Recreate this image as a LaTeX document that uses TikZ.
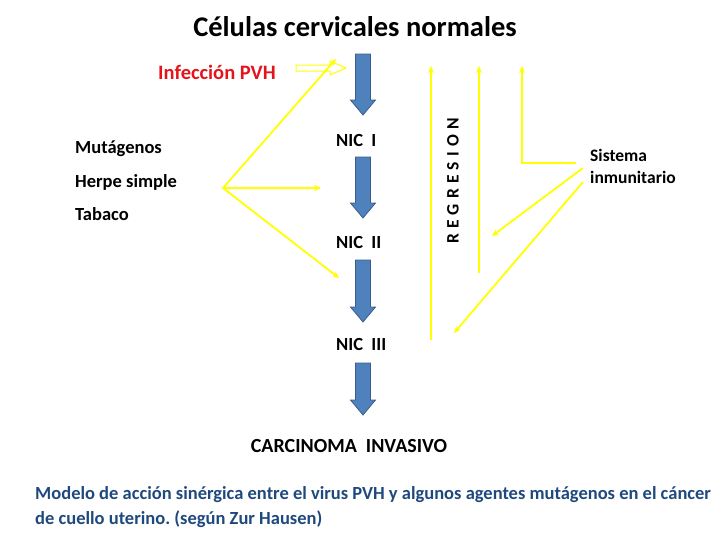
\documentclass[tikz,border=0pt]{standalone}
\usepackage{fontspec}
\setmainfont{Carlito}
\usetikzlibrary{arrows.meta}
\definecolor{blk}{HTML}{4F81BD}
\definecolor{blkline}{HTML}{385D8A}
\definecolor{yel}{HTML}{FFFF00}
\definecolor{redt}{HTML}{E3141C}
\definecolor{capt}{HTML}{1F497D}
\frenchspacing
\tikzset{
  lbl/.style={font=\bfseries\fontsize{18.5}{22}\selectfont, inner sep=0pt},
  yline/.style={draw=yel, line width=1.8pt, -{Stealth[length=7pt,width=6pt]}},
  blockarrow/.pic={
    \path[fill=blk, draw=blkline, line width=0.8pt]
      (-7.5,0) -- (7.5,0) -- (7.5,#1) -- (12.5,#1) -- (0,#1+15) -- (-12.5,#1) -- (-7.5,#1) -- cycle;
  }
}
\begin{document}
\begin{tikzpicture}[x=1pt,y=-1pt]
\useasboundingbox (0,0) rectangle (728,546);
% title
\node[font=\bfseries\fontsize{28.5}{32}\selectfont, inner sep=0pt] (title) at (355,27) {Células cervicales normales};
\node[lbl, text=redt, font=\bfseries\fontsize{20.5}{24}\selectfont] (pvh) at (217,72) {Infección PVH};
% hollow arrow
\path[draw=yel, line width=1pt, fill=white]
  (296,65) -- (330,65) -- (330,61) -- (346,68) -- (330,75) -- (330,71) -- (296,71) -- cycle;
% blue block arrows
\pic at (363,54) {blockarrow=46};
\pic at (363,157) {blockarrow=46};
\pic at (363,260) {blockarrow=47};
\pic at (363,363) {blockarrow=37};
% NIC labels
\node[lbl, anchor=west] (n1) at (336,140) {NIC\ \ I};
\node[lbl, anchor=west] (n2) at (336,242) {NIC\ \ II};
\node[lbl, anchor=west] (n3) at (336,344) {NIC\ \ III};
\node[lbl, font=\bfseries\fontsize{20}{23}\selectfont] (ca) at (349,446) {CARCINOMA\ \ INVASIVO};
% mutagens
\node[lbl, anchor=west] (mut) at (75,149) {Mutágenos};
\node[lbl, anchor=west] (her) at (75,182) {Herpe simple};
\node[lbl, anchor=west] (tab) at (75,214) {Tabaco};
\coordinate (o) at (223,188);
\coordinate (t1) at (336,59);
\coordinate (t2) at (321,188);
\coordinate (t3) at (339,278);
\draw[yline] (o) -- (t1);
\draw[yline] (o) -- (t2);
\draw[yline] (o) -- (t3);
% regression lines
\coordinate (ra0) at (431,340); \coordinate (ra1) at (431,66);
\coordinate (rb0) at (479,273); \coordinate (rb1) at (479,66);
\coordinate (rc0) at (576,163); \coordinate (rc1) at (522,66);
\draw[yline] (ra0) -- (ra1);
\draw[yline] (rb0) -- (rb1);
\draw[yline] (rc0) -- (522,163) -- (rc1);
\node[lbl, rotate=90, font=\bfseries\fontsize{17.5}{20}\selectfont\addfontfeatures{LetterSpace=30}] (reg) at (453,181) {REGRESION};
% sistema
\node[lbl, anchor=base west, align=left, font=\bfseries\fontsize{17.5}{22}\selectfont] (sis) at (590,183) {Sistema\\inmunitario};
\coordinate (s1) at (583,168); \coordinate (e1) at (492,236);
\coordinate (s2) at (583,182); \coordinate (e2) at (454,333);
\draw[yline] (s1) -- (e1);
\draw[yline] (s2) -- (e2);
% caption
\node[lbl, anchor=base west, align=left, text=capt, font=\bfseries\fontsize{18.5}{25}\selectfont] (cap) at (35,524) {Modelo de acción sinérgica entre el virus PVH y algunos agentes mutágenos en el cáncer\\de cuello uterino. (según Zur Hausen)};
\end{tikzpicture}
\end{document}
